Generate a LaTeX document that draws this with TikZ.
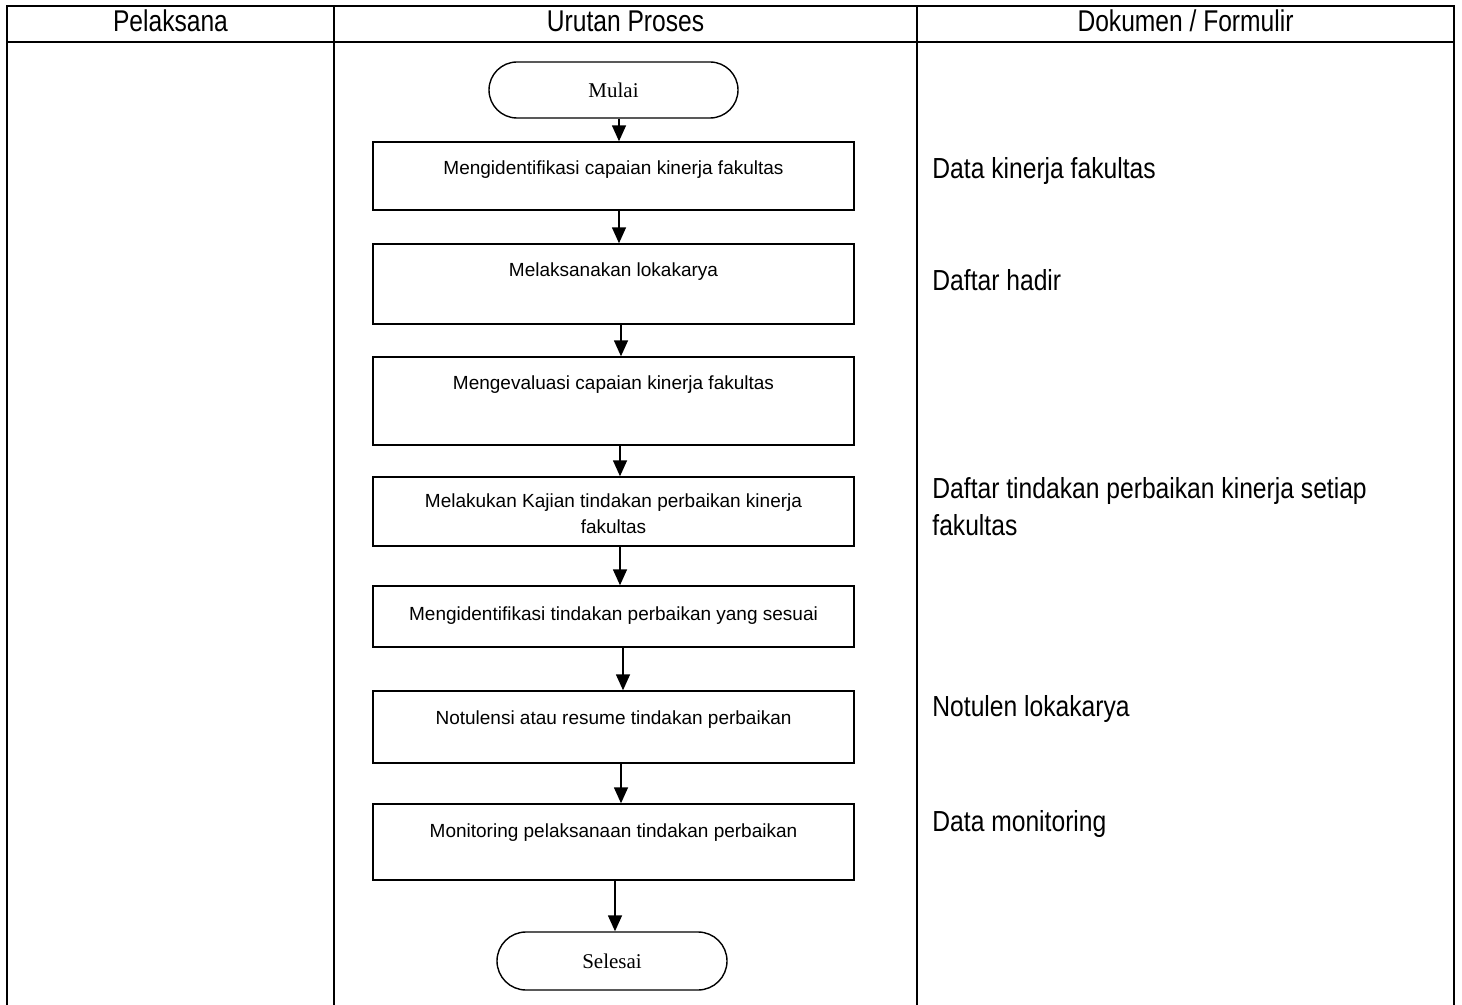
\documentclass[tikz,border=0pt]{standalone}
\usepackage{fontspec}
\setmainfont{Liberation Sans}
\newfontfamily\timesface{Liberation Serif}
\newfontfamily\narrowface[FakeStretch=0.82]{Liberation Sans}
\newfontfamily\docface[FakeStretch=0.85]{Liberation Sans}
\usetikzlibrary{positioning,shapes.misc,arrows.meta}

\tikzset{
  grid line/.style={line width=1pt},
  procbox/.style={draw, line width=0.7pt, minimum width=240.5pt, inner sep=0pt},
  proctext/.style={anchor=base, align=center, font=\fontsize{9.5}{13}\selectfont},
  terminal/.style={draw, rounded rectangle, line width=0.7pt, inner sep=0pt,
    font=\timesface\fontsize{10.5}{12}\selectfont},
  doctext/.style={anchor=base west, align=left, inner sep=0pt,
    font=\docface\fontsize{14.5}{18.5}\selectfont},
  headtext/.style={anchor=base, font=\narrowface\fontsize{15}{17}\selectfont},
  flow/.style={-{Triangle[width=7pt,length=8pt]}, line width=0.75pt}
}

\begin{document}
\begin{tikzpicture}[x=0.5pt,y=-0.5pt]
    \useasboundingbox (0,0) rectangle (1462,1005);

    % Table
    \draw[grid line] (7,1005) -- (7,6) -- (1454,6) -- (1454,1005);
    \draw[grid line] (7,42) -- (1454,42);
    \draw[grid line] (334,6) -- (334,1005);
    \draw[grid line] (917,6) -- (917,1005);
    \node[headtext] (hpel) at (170.5,32) {Pelaksana};
    \node[headtext] (hproc) at (625.5,32) {Urutan Proses};
    \node[headtext] (hdoc) at (1185.5,32) {Dokumen / Formulir};

    % Process steps
    \node[terminal, minimum width=124.5pt, minimum height=28pt] (mulai) at (613.5,90) {Mulai};
    \node[procbox, minimum height=34pt] (b1) at (613.5,176) {};
    \node[procbox, minimum height=40pt] (b2) at (613.5,284) {};
    \node[procbox, minimum height=44pt] (b3) at (613.5,401) {};
    \node[procbox, minimum height=34.5pt] (b4) at (613.5,511.5) {};
    \node[procbox, minimum height=30.5pt] (b5) at (613.5,616.5) {};
    \node[procbox, minimum height=36pt] (b6) at (613.5,727) {};
    \node[procbox, minimum height=38pt] (b7) at (613.5,842) {};
    \node[terminal, minimum width=115pt, minimum height=29pt] (selesai) at (612,961) {Selesai};

    \node[proctext] (t1) at (613.5,175) {Mengidentifikasi capaian kinerja fakultas};
    \node[proctext] (t2) at (613.5,277) {Melaksanakan lokakarya};
    \node[proctext] (t3) at (613.5,390) {Mengevaluasi capaian kinerja fakultas};
    \node[proctext] (t4) at (613.5,533) {Melakukan Kajian tindakan perbaikan kinerja\\fakultas};
    \node[proctext] (t5) at (613.5,620) {Mengidentifikasi tindakan perbaikan yang sesuai};
    \node[proctext] (t6) at (613.5,724) {Notulensi atau resume tindakan perbaikan};
    \node[proctext] (t7) at (613.5,837) {Monitoring pelaksanaan tindakan perbaikan};

    % Connectors
    \draw[flow] ([xshift=2.75pt]mulai.south) -- ([xshift=2.75pt]b1.north);
    \draw[flow] ([xshift=2.75pt]b1.south) -- ([xshift=2.75pt]b2.north);
    \draw[flow] ([xshift=3.75pt]b2.south) -- ([xshift=3.75pt]b3.north);
    \draw[flow] ([xshift=3.25pt]b3.south) -- ([xshift=3.25pt]b4.north);
    \draw[flow] ([xshift=3.25pt]b4.south) -- ([xshift=3.25pt]b5.north);
    \draw[flow] ([xshift=4.75pt]b5.south) -- ([xshift=4.75pt]b6.north);
    \draw[flow] ([xshift=3.75pt]b6.south) -- ([xshift=3.75pt]b7.north);
    \draw[flow] ([xshift=0.75pt]b7.south) -- ([xshift=1.5pt]selesai.north);

    % Documents
    \node[doctext] (d1) at (932,179) {Data kinerja fakultas};
    \node[doctext] (d2) at (932,291) {Daftar hadir};
    \node[doctext] (d3) at (932,536) {Daftar tindakan perbaikan kinerja setiap\\fakultas};
    \node[doctext] (d4) at (932,716) {Notulen lokakarya};
    \node[doctext] (d5) at (932,831) {Data monitoring};
\end{tikzpicture}
\end{document}
